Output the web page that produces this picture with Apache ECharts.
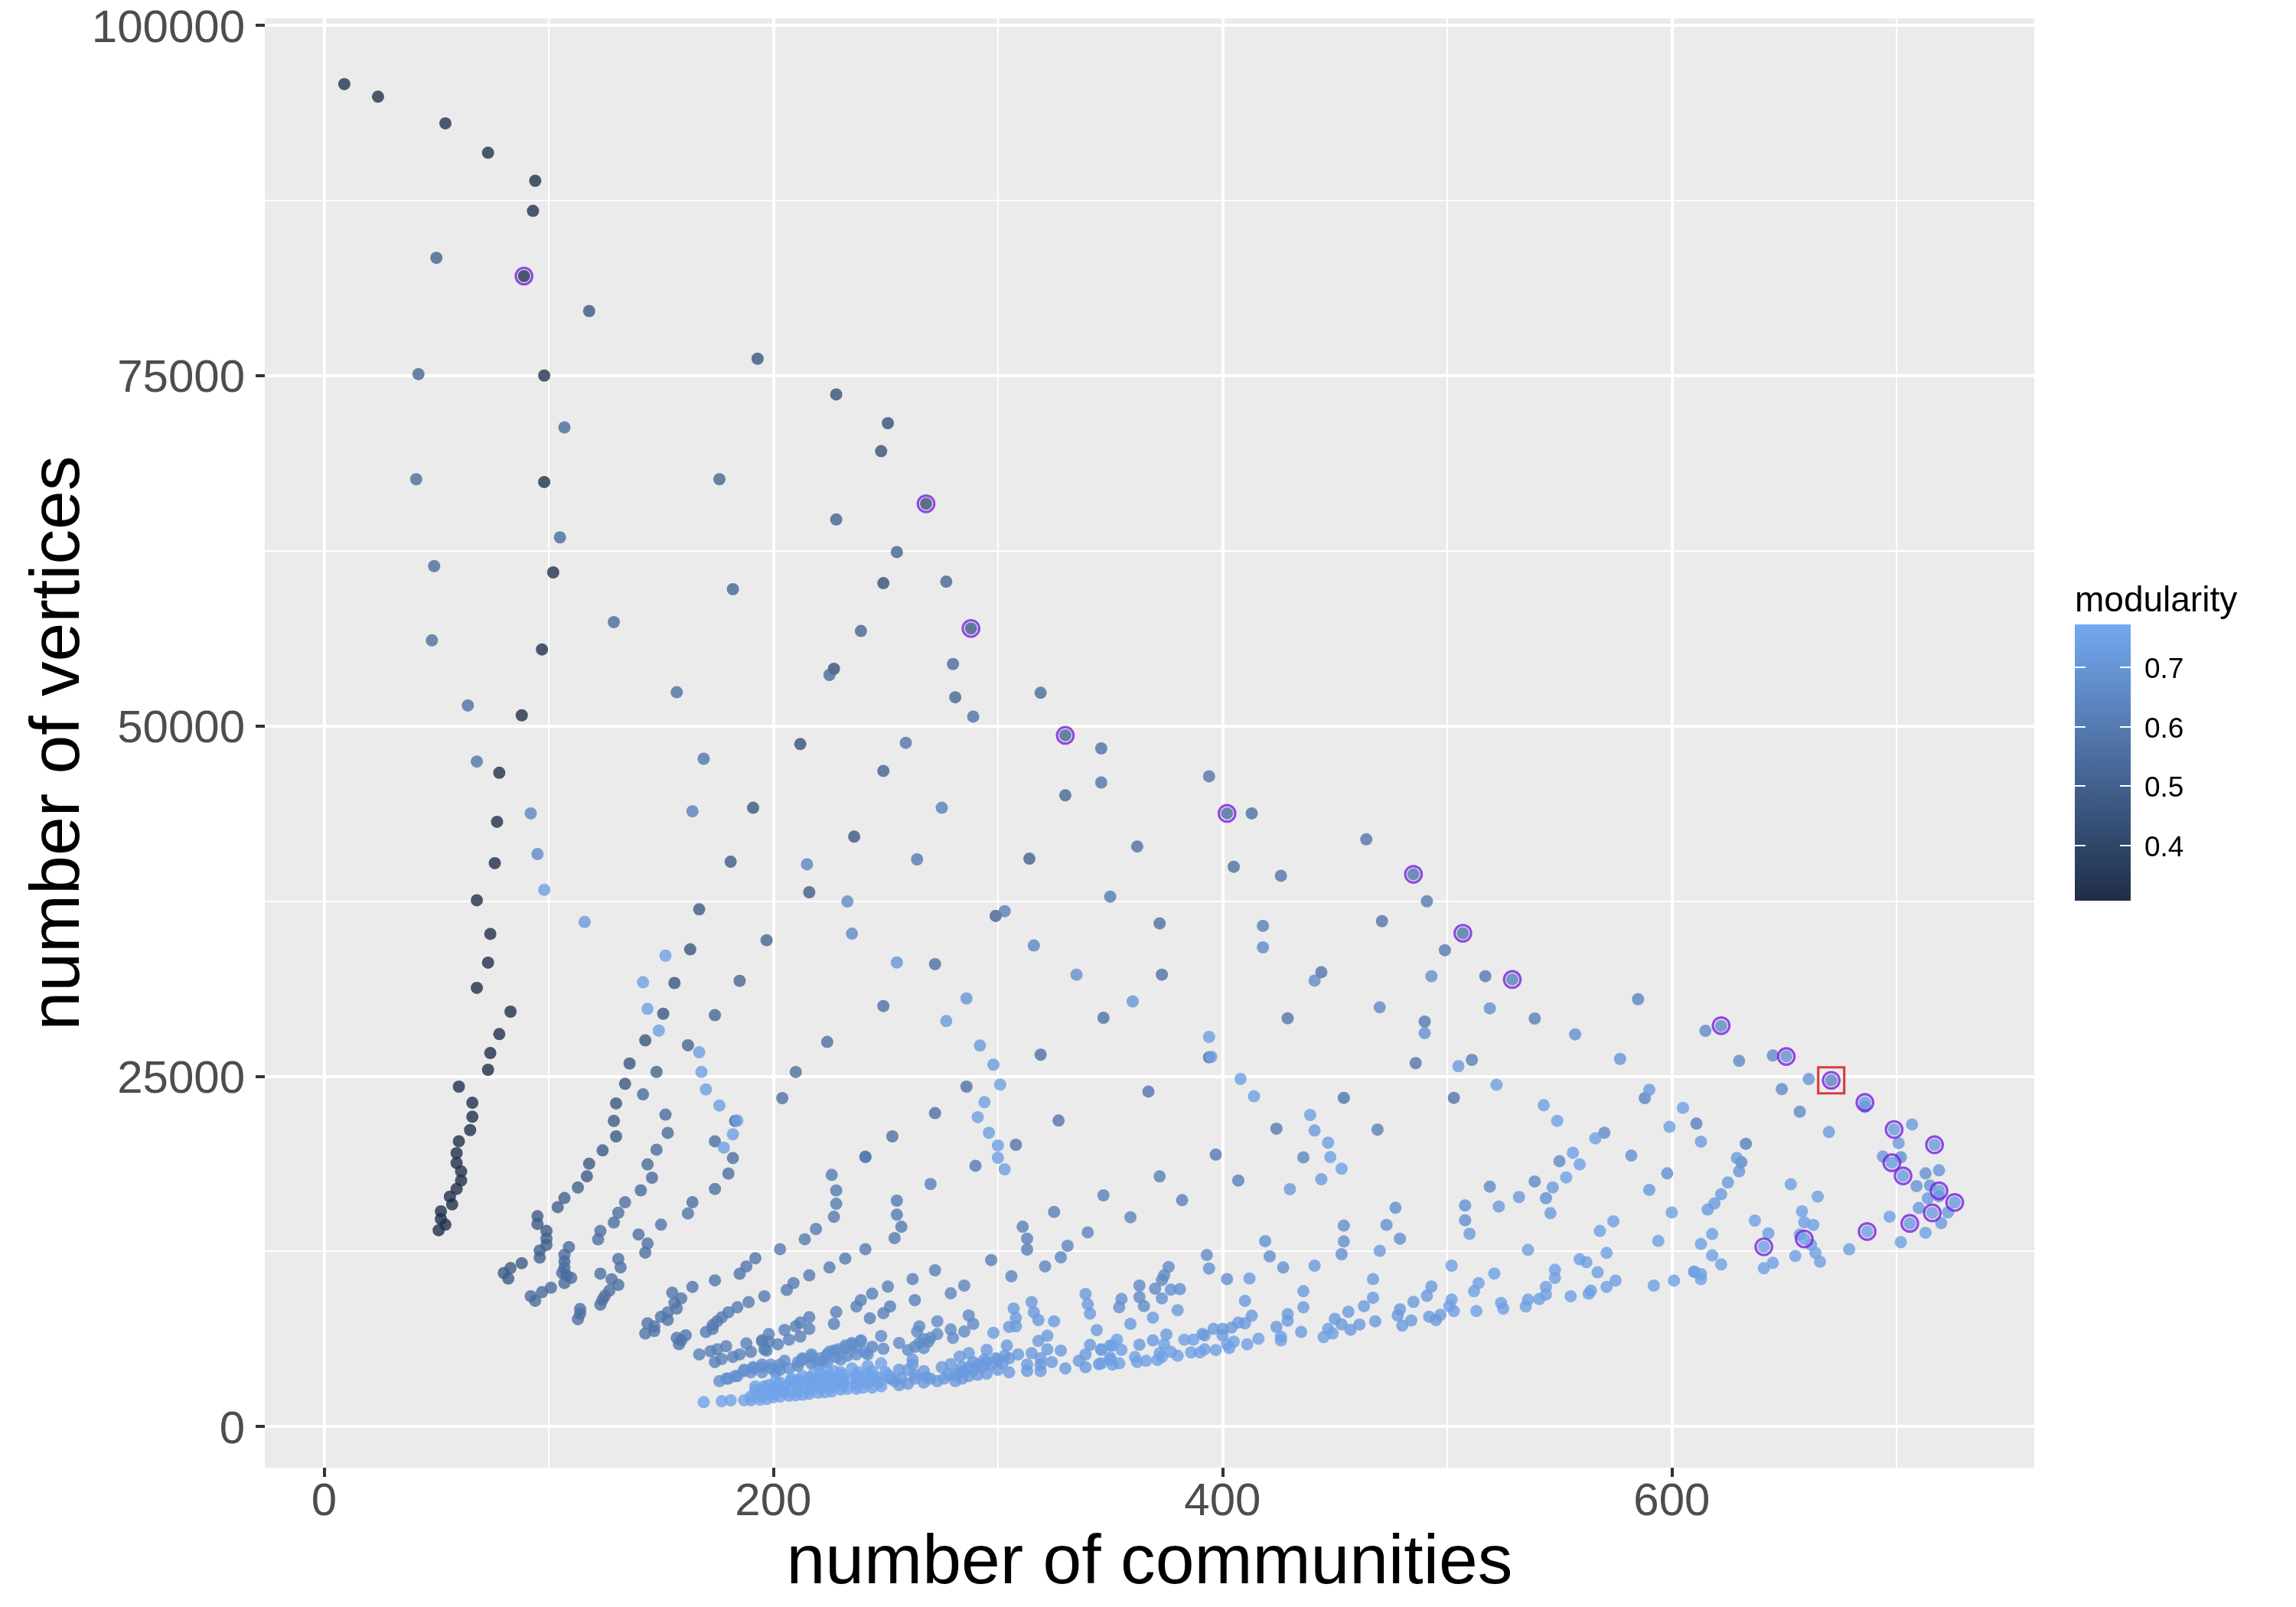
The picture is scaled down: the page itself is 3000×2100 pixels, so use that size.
<!DOCTYPE html>
<html><head><meta charset="utf-8">
<style>html,body{margin:0;padding:0;background:#fff}#c{width:3000px;height:2100px}</style>
<script src="https://cdn.jsdelivr.net/npm/echarts@6/dist/echarts.min.js"></script>
</head><body><div id="c"></div>
<script>
// [number of communities, number of vertices] pairs, grouped by modularity
const m33=[[88,50750],[78,46650],[77,43150],[76,40200],[68,37550],[74,35150],[73,33100],[68,31300],[83,29600],[78,28000],[74,26650],[73,25450],[60,24250],[66,23100],[66,22100],[65,21150],[60,20350],[59,19500],[59,18800],[61,18200],[61,17550],[59,16950],[56,16400],[57,15850],[52,15350],[52,14800],[54,14400],[51,14000]];
const m35=[[9,95800],[24,94900],[54,93000],[73,90900],[94,88900],[93,86750],[89,82100],[98,75000],[98,67400],[102,60950],[97,55450]];
const m44=[[228,73650],[251,71600],[248,69600],[268,65850],[249,60180],[227,54070],[212,48700]];
const m46=[[118,79600],[193,76200],[191,44150],[163,34050],[156,31650],[151,29450],[143,27550],[136,25900],[134,24450],[130,23050],[236,42090]];
const m48=[[181,40300],[167,36900],[129,21800],[130,20700],[124,19700],[118,18750],[117,17850],[95,15000],[95,14450],[99,13950],[88,11650],[83,11300],[80,10950],[82,10550],[288,56950],[216,38120]];
const m50=[[50,83400],[113,17050],[107,16300],[104,15650],[99,13400],[99,12950],[96,12550],[96,12050],[255,62400],[228,64730],[249,46780],[299,36430],[314,40520]];
const m52=[[42,75100],[176,67600],[182,59750],[197,34700],[185,31800],[174,29350],[162,27200],[148,25300],[183,21800],[277,60290],[239,56770],[281,52040],[330,49320],[330,45040]];
const m54=[[107,71300],[41,67600],[105,63450],[49,61400],[129,57400],[142,23700],[152,22250],[153,20950],[148,19750],[144,18700],[146,17750],[141,16850],[109,12800],[107,12250],[107,11780],[107,11330],[106,10960],[110,10600],[107,10230],[108,10780],[101,9900],[97,9580],[92,9290],[94,8960],[225,53630],[280,54410],[319,52360],[402,43750]];
const m56=[[48,56100],[157,52400],[64,51450],[174,20350],[182,19150],[180,18050],[174,16950],[134,16000],[131,15250],[129,14550],[123,13950],[122,13350],[164,16000],[140,13700],[144,13050],[143,12400],[131,11950],[132,11350],[123,10900],[128,10500],[131,10100],[127,9690],[125,9320],[123,8690],[124,9050],[114,8380],[114,8050],[113,7650],[289,50660],[346,48390],[413,43750],[362,41390],[405,39940],[272,32990],[373,32240],[249,30000],[347,29160],[224,27440],[319,26530],[394,26340],[210,25290],[204,23430],[286,24250],[272,22360],[253,20700],[241,19230],[372,35900]];
const m58=[[68,47450],[169,47650],[162,15200],[150,14400],[192,12000],[188,11420],[185,10890],[174,10420],[164,9960],[155,9540],[159,9140],[156,8810],[157,8410],[153,8140],[150,7830],[153,7600],[144,7360],[147,7140],[147,6810],[143,6630],[161,6500],[157,6320],[159,6140],[158,5870],[259,48790],[346,45960],[394,46400],[464,41900],[426,39300],[485,39400],[471,36060],[507,35200],[444,32420],[429,29130],[486,25930],[454,23450],[503,23450],[367,23900],[327,21830],[308,20100]];
const m60=[[290,18600],[241,19250],[226,17950],[228,16840],[228,15890],[227,14960],[219,14090],[214,13360],[203,12650],[255,16110],[255,15110],[257,14250],[254,13440],[241,12650],[232,11980],[225,11340],[216,10780],[209,10230],[206,9740],[189,8870],[184,8500],[180,8140],[177,7780],[175,7500],[173,7230],[173,6960],[170,6740],[196,9290],[264,40470],[350,37810],[491,37480],[499,33990],[517,32130],[490,28890],[424,21250],[397,19400]];
const m62=[[164,43900],[275,44150],[167,5140],[172,5360],[175,5500],[179,5720],[174,4590],[177,4810],[182,4960],[185,5140],[188,5920],[190,5320],[195,6080],[196,5500],[270,17300],[347,16490],[325,15310],[311,14250],[313,13400],[313,12620],[297,11870],[198,6590],[195,6140],[198,6050],[202,5860],[197,5410],[205,6880],[207,6190],[212,7410],[216,7790],[210,7140],[216,6960],[212,6410],[228,8160],[227,7320],[237,8560],[239,9010],[244,9470],[251,9980],[252,8560],[249,8080],[243,7720],[262,10520],[272,11140],[263,9010],[303,36770],[418,35720],[529,31900],[539,29110],[511,26160],[469,21180],[372,17840],[382,16150],[407,17550],[611,21610],[633,20170]];
const m64=[[92,43750],[306,10720],[340,13850],[331,12890],[328,12070],[321,11420],[279,9500],[285,10050],[244,5680],[239,6100],[235,5860],[232,5590],[227,5410],[224,5140],[217,4950],[213,4770],[316,34320],[215,40120],[588,23430],[359,14930],[436,19200],[671,24700],[585,30490]];
const m66=[[95,40850],[233,37460],[235,35170],[287,7920],[289,7320],[285,6770],[279,6920],[280,6320],[273,7500],[265,7140],[264,6770],[273,6590],[270,6320],[267,6230],[265,5960],[269,6050],[267,5590],[263,5680],[248,6450],[249,5540],[256,5960],[260,5450],[242,5140],[237,5590],[233,5050],[228,4950],[222,4680],[217,4500],[211,4320],[205,4680],[418,34190],[393,12230],[376,11380],[374,10780],[373,10450],[363,10050],[370,9830],[363,9230],[365,8590],[441,31820],[470,29910],[615,28230],[622,28580],[630,26090],[645,26470],[649,24070],[657,22460],[631,18860],[550,18930],[570,20960],[519,17110],[539,17480]];
const m68=[[335,32240],[203,4040],[199,4410],[195,4230],[191,4140],[187,4040],[184,3590],[180,3410],[176,3230],[201,3860],[195,3860],[190,3860],[493,32130],[519,29840],[490,28070],[557,27980],[651,26410],[582,19330],[598,18060],[508,15770],[508,14710],[544,16290],[477,15600],[473,14380],[479,13400],[454,14330],[454,13200],[453,12290],[419,13220],[421,12140],[427,11340],[394,11270],[402,10520],[377,9760],[381,9800],[373,9140],[355,9100],[354,8500],[702,19210],[713,18060],[179,3410],[183,3590],[187,3950],[191,4230],[195,4410],[199,4140],[203,4410],[207,4140],[211,4590],[213,4860],[217,5140],[221,4860],[225,5320],[229,5500],[232,5770],[235,5960],[239,6140],[241,5320],[224,4590],[230,4770],[237,5140],[220,4410]];
const m70=[[255,33110],[286,30550],[360,30330],[577,26230],[661,24790],[686,22790],[630,18210],[719,18280],[709,17150],[715,17190],[719,16420]];
const m72=[[116,36000],[277,28930],[292,27180],[298,25820],[505,25710],[590,24020],[441,21120],[436,9650],[436,8500],[410,8960],[380,8290],[467,10510],[467,9180],[463,8580],[456,8180],[450,7680],[453,7280],[457,6900],[461,7270],[468,7500],[429,8010],[429,7540],[424,7100],[435,6740],[413,7900],[410,7360],[407,7410],[404,7050],[400,6960],[396,6960],[391,6590],[392,6500],[400,6500],[369,7760],[359,7320],[375,6560],[369,6140],[363,5830],[412,10560],[441,11470],[470,12530],[493,9980],[491,9320],[485,8890],[479,8360],[478,7920],[484,7560],[480,7190],[492,7830],[495,7590],[497,7960],[547,17060],[532,16370],[523,15690],[546,15220],[590,16880],[510,13750],[430,16930],[444,17640],[686,23120],[699,21190],[707,21550],[670,21010],[613,20320],[717,20100],[701,20210],[694,19260],[698,18820],[629,19150],[703,17880],[625,17410],[622,16570],[619,15910],[616,15480],[719,16820],[714,16280],[726,15990],[723,15280],[710,15590],[716,15240],[720,14510],[706,14490],[344,6870],[341,8050],[340,8720],[339,9450],[341,5810],[350,5770],[350,4770],[346,5500],[345,4440],[339,5140],[339,4230],[336,4680],[330,4140],[328,5410],[325,7500],[324,4590],[322,5500],[322,6470],[319,4860],[319,4410],[319,3950],[318,7590],[318,6100],[316,8140],[315,8870],[315,5230],[313,4410],[313,3950],[309,5140],[308,7740],[308,7140],[307,8410],[305,7100],[305,4860],[305,3860],[304,5770],[300,4770],[300,4040],[298,6680],[295,5460],[295,4590],[295,3770],[291,4410],[291,3680],[287,5230],[287,4230],[287,3590],[284,3410],[283,4990],[283,3860],[281,3230],[279,4440],[276,3410],[275,4230],[273,3230],[268,3500],[267,3950],[267,3130],[263,3680],[262,4770],[262,4410],[260,4040],[260,3040],[256,4040],[256,2950],[254,3230],[252,3410],[252,3500],[257,3410],[263,3410],[270,3410],[278,3680],[281,3680],[285,3860],[289,4040],[293,4230],[297,4410],[302,4500],[299,4860],[303,5050],[294,4770],[289,4590],[284,4230]];
const m74=[[98,38300],[152,33600],[142,31700],[144,29800],[149,28250],[167,26700],[168,25300],[170,24050],[176,22900],[184,21830],[182,20850],[178,19900],[300,20050],[300,19170],[303,18350],[296,20960],[291,22070],[294,23140],[301,24400],[395,26380],[394,27800],[408,24800],[414,23560],[522,24380],[543,22920],[549,21810],[439,22230],[447,20250],[566,20560],[599,21380],[605,22740],[448,19220],[453,18390],[556,19530],[559,18700],[553,17770],[600,15270],[594,13240],[574,14640],[568,13950],[571,12380],[536,12600],[559,11930],[562,11720],[548,11180],[548,10600],[567,11000],[575,10410],[571,9960],[564,9690],[563,9470],[592,10050],[601,10410],[610,11030],[544,9960],[544,9410],[541,9090],[536,9050],[535,8560],[555,9290],[521,10910],[514,10230],[512,9650],[502,11470],[524,8810],[525,8410],[513,8230],[502,9050],[501,8590],[503,8230],[447,6960],[449,6630],[445,6370],[426,6410],[426,6140],[416,6260],[411,5860],[405,6050],[402,5860],[403,5590],[397,5450],[392,5500],[390,5280],[386,5280],[387,6190],[383,6190],[380,5050],[377,5320],[374,5860],[373,4950],[371,4740],[372,5230],[366,4680],[362,4590],[361,4950],[355,5460],[353,6190],[351,5770],[346,5460],[350,4920],[351,4410],[354,4500],[346,4500],[653,17280],[665,16400],[697,14970],[713,13820],[702,13150],[687,13910],[679,12640],[658,15350],[659,14570],[663,14380],[637,14690],[643,13780],[657,13690],[659,13380],[662,12960],[664,12380],[666,11750],[655,12160],[641,12820],[645,11670],[641,11290],[618,13730],[613,13020],[618,12200],[622,11560],[610,11050],[613,10870],[613,10510]];
const m75=[[169,1730],[177,1800],[181,1860],[187,1860],[190,1860],[194,1900],[197,1950],[200,2080],[203,2130],[207,2190],[210,2220],[213,2260],[216,2320],[220,2410],[223,2440],[226,2500],[230,2630],[233,2680],[237,2680],[240,2770],[244,2770],[248,2860],[192,2860],[196,2860],[201,3230],[201,2860],[207,2950],[211,3320],[216,3500],[221,3770],[222,3500],[227,3950],[227,3230],[231,3040],[231,3680],[235,4140],[235,3410],[239,3230],[242,4320],[242,3770],[246,3230],[248,4500],[250,3860],[251,3680],[204,2590],[211,2680],[217,2860],[224,3040],[230,3230],[208,3230],[213,3130],[218,3320],[198,2410],[203,2500],[224,3590],[237,3040],[244,3590],[190,2130],[195,2130],[200,2320],[205,2410],[211,2500],[216,2590],[221,2680],[226,2770],[231,2860],[237,2950],[242,3040],[247,3130],[195,2590],[200,2680],[205,2860],[211,3040],[216,3130],[221,3230],[226,3410],[231,3410],[237,3680],[242,3410],[247,3500],[198,2950],[203,3130],[208,3410],[213,3590],[218,3770],[224,3950],[230,3860],[238,3860],[244,3950],[192,2590]];

const bands=[[0.315,m33],[0.325,m35],[0.44,m44],[0.46,m46],[0.48,m48],[0.50,m50],[0.52,m52],[0.54,m54],[0.56,m56],[0.58,m58],[0.60,m60],[0.62,m62],[0.64,m64],[0.66,m66],[0.68,m68],[0.70,m70],[0.72,m72],[0.74,m74],[0.75,m75]];
const purpleCircled=[[89,82100],[268,65850],[288,56950],[330,49320],[402,43750],[485,39400],[507,35200],[529,31900],[622,28600],[651,26400],[671,24700],[686,23120],[699,21190],[717,20100],[698,18820],[703,17880],[719,16820],[726,15985],[716,15240],[706,14490],[687,13910],[659,13380],[641,12820]];
const redSquared=[[671,24700]];
const xTicks=[0,200,400,600];
const xMinor=[100,300,500,700];
const yTicks=[0,25000,50000,75000,100000];
const yMinor=[12500,37500,62500,87500];
const legendTicks=[0.4,0.5,0.6,0.7];

const LOW='#1F2E47',HIGH='#74A8F0',FONT='"Liberation Sans",Helvetica,Arial,sans-serif';
const XR=[-26.4,761.4],YR=[-2949,100491],MR=[0.307,0.772];
const points=bands.flatMap(([m,arr])=>arr.map(p=>[p[0],p[1],m]));
const lab=v=>String(v);
const noLine={show:false,onZero:false};
const chart=echarts.init(document.getElementById('c'),null,{renderer:'canvas'});
chart.setOption({
 animation:false,backgroundColor:'#fff',
 title:{text:'modularity',left:2711,top:763,padding:0,textStyle:{fontFamily:FONT,fontSize:46,fontWeight:'normal',color:'#000'}},
 grid:[
  {left:346,right:342,top:24,bottom:182,show:true,backgroundColor:'#EBEBEB',borderWidth:0},
  {left:2711,width:73,top:816,height:361,show:false}
 ],
 visualMap:{show:false,type:'continuous',seriesIndex:0,dimension:2,min:MR[0],max:MR[1],inRange:{color:[LOW,HIGH]}},
 xAxis:[
  {type:'value',gridIndex:0,position:'bottom',min:XR[0],max:XR[1],name:'number of communities',nameLocation:'middle',nameGap:80,
   nameTextStyle:{fontFamily:FONT,fontSize:91.3,color:'#000'},
   axisLine:noLine,
   axisTick:{show:true,length:12,customValues:xTicks,lineStyle:{color:'#333',width:4}},
   axisLabel:{show:true,customValues:xTicks,formatter:lab,margin:15,fontFamily:FONT,fontSize:60,color:'#4D4D4D'},
   splitLine:{show:true,lineStyle:{color:'#fff',width:4}}},
  {type:'value',gridIndex:0,position:'bottom',min:XR[0],max:XR[1],axisLine:noLine,
   axisTick:{show:false,customValues:xMinor},axisLabel:{show:false,customValues:xMinor},
   splitLine:{show:true,lineStyle:{color:'#fff',width:2}}},
  {type:'category',gridIndex:1,data:['bar'],show:false}
 ],
 yAxis:[
  {type:'value',gridIndex:0,position:'left',min:YR[0],max:YR[1],name:'number of vertices',nameLocation:'middle',nameGap:223,nameMoveOverlap:false,nameRotate:90,
   nameTextStyle:{fontFamily:FONT,fontSize:91.3,color:'#000'},
   axisLine:noLine,
   axisTick:{show:true,length:12,customValues:yTicks,lineStyle:{color:'#333',width:4}},
   axisLabel:{show:true,customValues:yTicks,formatter:v=>'{a|'+v+'}',margin:26,
     rich:{a:{padding:[10,0,0,0],fontFamily:FONT,fontSize:60,color:'#4D4D4D'}}},
   splitLine:{show:true,lineStyle:{color:'#fff',width:4}}},
  {type:'value',gridIndex:0,position:'left',min:YR[0],max:YR[1],axisLine:noLine,
   axisTick:{show:false,customValues:yMinor},axisLabel:{show:false,customValues:yMinor},
   splitLine:{show:true,lineStyle:{color:'#fff',width:2}}},
  {type:'value',gridIndex:1,position:'left',min:MR[0],max:MR[1],z:6,axisLine:noLine,
   axisTick:{show:true,inside:true,length:14,customValues:legendTicks,lineStyle:{color:'#fff',width:2}},
   axisLabel:{show:false,customValues:legendTicks},splitLine:{show:false}},
  {type:'value',gridIndex:1,position:'right',min:MR[0],max:MR[1],z:6,axisLine:noLine,
   axisTick:{show:true,inside:true,length:14,customValues:legendTicks,lineStyle:{color:'#fff',width:2}},
   axisLabel:{show:true,inside:false,customValues:legendTicks,margin:18,formatter:v=>'{a|'+v.toFixed(1)+'}',
     rich:{a:{padding:[8,0,0,0],fontFamily:FONT,fontSize:37,color:'#000'}}},
   splitLine:{show:false}}
 ],
 series:[
  {type:'scatter',xAxisIndex:0,yAxisIndex:0,data:points,symbol:'circle',symbolSize:16,silent:true,z:3},
  {type:'scatter',xAxisIndex:0,yAxisIndex:0,data:purpleCircled,symbol:'circle',symbolSize:21.5,silent:true,z:4,
   itemStyle:{color:'rgba(0,0,0,0)',borderColor:'#7A1FE0',borderWidth:3.2}},
  {type:'scatter',xAxisIndex:0,yAxisIndex:0,data:redSquared,symbol:'rect',symbolSize:34,silent:true,z:5,
   itemStyle:{color:'rgba(0,0,0,0)',borderColor:'#CC1414',borderWidth:3.2}},
  {type:'bar',xAxisIndex:2,yAxisIndex:2,data:[MR[1]],barWidth:'100%',silent:true,z:2,
   itemStyle:{color:{type:'linear',x:0,y:0,x2:0,y2:1,colorStops:[{offset:0,color:HIGH},{offset:1,color:LOW}]}}}
 ]
});
</script></body></html>
